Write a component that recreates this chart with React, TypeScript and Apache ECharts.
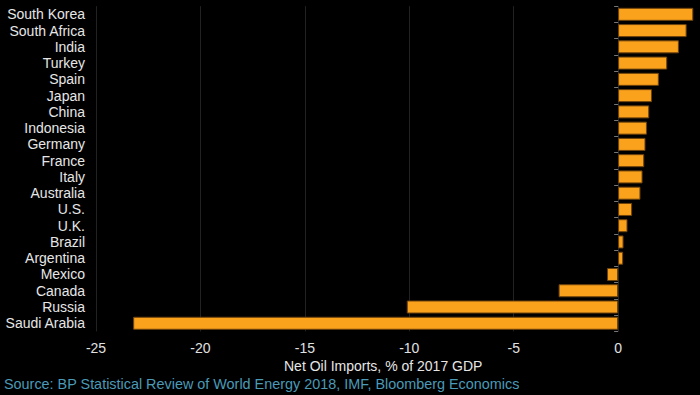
import React, { useEffect, useRef } from "react";
import * as echarts from "echarts";

const countries = [
  "South Korea", "South Africa", "India", "Turkey", "Spain", "Japan", "China",
  "Indonesia", "Germany", "France", "Italy", "Australia", "U.S.", "U.K.",
  "Brazil", "Argentina", "Mexico", "Canada", "Russia", "Saudi Arabia",
];
const netOilImports = [
  3.6, 3.28, 2.91, 2.35, 1.95, 1.62, 1.49, 1.38, 1.31, 1.25, 1.17, 1.07,
  0.67, 0.45, 0.26, 0.24, -0.53, -2.85, -10.12, -23.22,
];
const axisTitle = "Net Oil Imports, % of 2017 GDP";
const sourceText = "Source: BP Statistical Review of World Energy 2018, IMF, Bloomberg Economics";

export default function App() {
  const ref = useRef<HTMLDivElement>(null);
  useEffect(() => {
    if (!ref.current) return;
    const chart = echarts.init(ref.current, undefined, { renderer: "svg" });
    const font = "'Liberation Sans', Arial, sans-serif";
    chart.setOption({
      animation: false,
      backgroundColor: "#000000",
      textStyle: { fontFamily: font },
      grid: { left: 96, right: 6.7, top: 6.2, bottom: 63.6, containLabel: false },
      xAxis: {
        type: "value",
        min: -25,
        max: 3.6,
        interval: 5,
        axisLine: { show: false },
        axisTick: { show: false },
        axisLabel: { color: "#e0e0e0", fontSize: 14, margin: 10, showMaxLabel: false, fontFamily: font },
        splitLine: { show: true, showMaxLine: false, lineStyle: { color: "#222222", width: 1 } },
      },
      yAxis: [
        {
          type: "category",
          inverse: true,
          position: "left",
          data: countries,
          axisLine: { show: false, onZero: false },
          axisTick: { show: false },
          splitLine: { show: false },
          axisLabel: { color: "#e6e6e6", fontSize: 14, margin: 11, interval: 0, fontFamily: font },
        },
        {
          type: "category",
          inverse: true,
          position: "left",
          data: countries,
          axisLine: { show: true, onZero: true, lineStyle: { color: "rgba(0,0,0,0)" } },
          axisTick: { show: true, length: 4, interval: 0, lineStyle: { color: "#777777" } },
          axisLabel: { show: false },
          splitLine: { show: false },
        },
      ],
      series: [
        {
          type: "bar",
          yAxisIndex: 0,
          data: netOilImports,
          barWidth: "80%",
          itemStyle: { color: "#fba21c", borderColor: "#6e430c", borderWidth: 1 },
        },
      ],
      graphic: [
        {
          type: "text",
          left: 384 - 100,
          top: 359,
          style: { text: axisTitle, fill: "#e6e6e6", font: `14px ${font}` },
        },
        {
          type: "text",
          left: 4,
          top: 377,
          style: { text: sourceText, fill: "#4a9ab8", font: `14.4px ${font}` },
        },
      ],
    });
    return () => chart.dispose();
  }, []);
  return (
    <div
      ref={ref}
      style={{ position: "fixed", left: 0, top: 0, width: 700, height: 395, background: "#000" }}
    />
  );
}
